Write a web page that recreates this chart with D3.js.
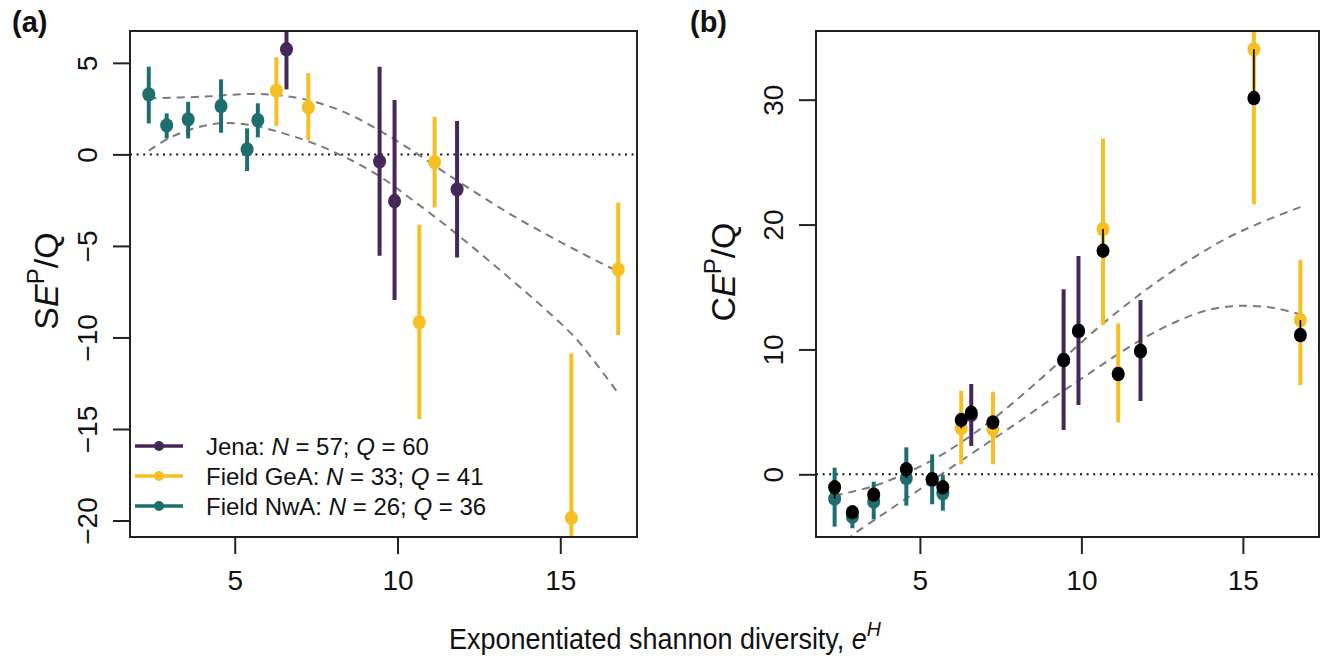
<!DOCTYPE html>
<html>
<head>
<meta charset="utf-8">
<script src="https://cdn.jsdelivr.net/npm/d3@7"></script>
<style>
  body { margin: 0; background: #fff; }
  svg text { font-family: "Liberation Sans", Arial, sans-serif; fill: #111; }
</style>
</head>
<body>
<script>
"use strict";
(function(){
    // x positions (exponentiated shannon diversity) per dataset
    const xJena = [6.59, 9.45, 9.91, 11.83]
    const xGeA = [6.28, 7.26, 10.67, 11.14, 15.34, 16.78]
    const xNwA = [2.36, 2.91, 3.57, 4.58, 5.38, 5.71]

    // panel (a): SE^P/Q with intervals
    const seJena = [5.74, -0.38, -2.55, -1.91]
    const seJenaLo = [3.55, -5.54, -7.96, -5.63]
    const seJenaHi = [7.9, 4.79, 2.97, 1.82]
    const seGeA = [3.48, 2.57, -9.16, -0.42, -19.86, -6.28]
    const seGeALo = [1.55, 0.78, -14.47, -2.90, -22.5, -9.87]
    const seGeAHi = [5.30, 4.43, -3.85, 2.05, -10.87, -2.64]
    const seNwA = [3.28, 1.58, 1.91, 2.64, 0.27, 1.87]
    const seNwALo = [1.69, 0.87, 0.87, 1.18, -0.91, 0.93]
    const seNwAHi = [4.79, 2.24, 2.87, 4.10, 1.42, 2.79]

    // panel (b): CE^P/Q per dataset, with intervals, and overall (black)
    const ceJena = [4.75, 9.15, 11.5, 9.87]
    const ceJenaLo = [2.27, 3.55, 5.55, 5.87]
    const ceJenaHi = [7.23, 14.81, 17.48, 13.96]
    const ceGeA = [3.68, 3.60, 19.64, 8.1, 34.03, 12.35]
    const ceGeALo = [0.80, 0.80, 11.95, 4.16, 21.6, 7.15]
    const ceGeAHi = [6.69, 6.61, 26.9, 12.09, 37.0, 17.16]
    const ceNwA = [-1.95, -3.39, -2.19, -0.30, -0.46, -1.52]
    const ceNwALo = [-4.19, -4.32, -3.6, -2.51, -2.40, -2.91]
    const ceNwAHi = [0.53, -2.67, -0.59, 2.16, 1.60, -0.06]
    const ceAllJena = [4.93, 9.15, 11.47, 9.87]
    const ceAllGeA = [4.35, 4.16, 17.90, 8.03, 30.13, 11.15]
    const ceAllNwA = [-1.04, -3.04, -1.63, 0.40, -0.40, -1.04]

    // fitted curves (dashed)
    const fitAUpperX = [2.36, 4.0, 5.5, 6.5, 7.5, 8.5, 9.5, 10.5, 11.5, 12.5, 13.5, 14.5, 15.5, 16.78]
    const fitAUpperY = [3.06, 3.15, 3.30, 3.2, 2.85, 2.2, 1.25, 0.15, -1.05, -2.2, -3.3, -4.3, -5.25, -6.41]
    const fitALowerX = [2.36, 3.0, 3.8, 4.6, 5.5, 6.5, 7.5, 8.5, 9.5, 10.5, 11.5, 12.5, 13.5, 14.5, 15.5, 16.78]
    const fitALowerY = [0.2, 0.9, 1.45, 1.7, 1.6, 1.15, 0.55, -0.25, -1.25, -2.55, -3.9, -5.35, -6.85, -8.4, -10.1, -13.06]
    const fitBUpperX = [2.36, 3.5, 4.5, 5.5, 6.5, 7.5, 8.5, 9.5, 10.5, 11.5, 12.5, 13.5, 14.5, 15.5, 16.78]
    const fitBUpperY = [-1.7, -1.0, 0.0, 1.3, 2.95, 4.9, 7.1, 9.4, 11.7, 13.8, 15.7, 17.4, 18.9, 20.1, 21.4]
    const fitBLowerX = [2.36, 3, 4, 5, 6, 7, 8, 9, 10, 11, 12, 13, 14, 15, 16, 16.78]
    const fitBLowerY = [-6.0, -4.7, -2.95, -1.2, 0.6, 2.35, 4.1, 5.9, 7.65, 9.4, 11.0, 12.3, 13.2, 13.5, 13.3, 12.8]

    const ticksA = [-20, -15, -10, -5, 0, 5]
    const ticksB = [0, 10, 20, 30]
    const ticksX = [5, 10, 15]

    const legendNames = ["Jena", "Field GeA", "Field NwA"]
    const legendN = [57, 33, 26]
    const legendQ = [60, 41, 36]
    const colors = ["#46275a", "#f6bf22", "#1f6e6f"]

    const svg = d3.select("body").append("svg")
        .attr("width", 1334)
        .attr("height", 664)

    // x domain padded by 4% like base R
    const allX = xJena.concat(xGeA, xNwA)
    const xr = d3.extent(allX)
    const pad = (xr[1] - xr[0]) * 0.04
    const xDomain = [xr[0] - pad, xr[1] + pad]

    const zip = (xs, ys) => xs.map((x, i) => [x, ys[i]])

    function makePanel(p) {
        const g = svg.append("g")
        const x = d3.scaleLinear().domain(xDomain).range([p.left, p.right])
        const y = d3.scaleLinear().domain(p.yDomain).range([p.bottom, p.top])

        const clipId = "clip" + p.id
        svg.append("clipPath").attr("id", clipId)
            .append("rect")
            .attr("x", p.left).attr("y", p.top)
            .attr("width", p.right - p.left).attr("height", p.bottom - p.top)
        const inner = g.append("g").attr("clip-path", "url(#" + clipId + ")")

        // zero reference line
        inner.append("line")
            .attr("x1", p.left).attr("x2", p.right)
            .attr("y1", y(0)).attr("y2", y(0))
            .attr("stroke", "#111").attr("stroke-width", 2)
            .attr("stroke-dasharray", "2,4.6")

        // dashed fits
        const line = d3.line()
            .x(d => x(d[0])).y(d => y(d[1]))
            .curve(d3.curveCatmullRom.alpha(0.5))
        p.fits.forEach(f => {
            inner.append("path")
                .attr("d", line(f))
                .attr("fill", "none")
                .attr("stroke", "#7a7a7a")
                .attr("stroke-width", 2)
                .attr("stroke-dasharray", "8,6")
        })

        // error bars and points per dataset
        p.groups.forEach(s => {
            inner.selectAll(null)
                .data(s.xs.map((v, i) => i))
                .enter()
                .append("line")
                .attr("x1", i => x(s.xs[i])).attr("x2", i => x(s.xs[i]))
                .attr("y1", i => y(s.lo[i])).attr("y2", i => y(s.hi[i]))
                .attr("stroke", s.color)
                .attr("stroke-width", 4)
            inner.selectAll(null)
                .data(s.xs.map((v, i) => i))
                .enter()
                .append("ellipse")
                .attr("cx", i => x(s.xs[i]))
                .attr("cy", i => y(s.ys[i]))
                .attr("rx", 6.5).attr("ry", 7.2)
                .attr("fill", s.color)
        })

        // overall estimates in panel b: black segment + black dot
        p.groups.forEach(s => {
            if (!s.all) return
            inner.selectAll(null)
                .data(s.xs.map((v, i) => i))
                .enter()
                .append("line")
                .attr("x1", i => x(s.xs[i])).attr("x2", i => x(s.xs[i]))
                .attr("y1", i => y(s.ys[i])).attr("y2", i => y(s.all[i]))
                .attr("stroke", "#000").attr("stroke-width", 1.6)
        })
        p.groups.forEach(s => {
            if (!s.all) return
            inner.selectAll(null)
                .data(s.xs.map((v, i) => i))
                .enter()
                .append("ellipse")
                .attr("cx", i => x(s.xs[i]))
                .attr("cy", i => y(s.all[i]))
                .attr("rx", 6.5).attr("ry", 7.2)
                .attr("fill", "#000")
        })

        // box
        g.append("rect")
            .attr("x", p.left).attr("y", p.top)
            .attr("width", p.right - p.left).attr("height", p.bottom - p.top)
            .attr("fill", "none").attr("stroke", "#222").attr("stroke-width", 2)

        // x axis
        const xAxis = d3.axisBottom(x).tickValues(ticksX).tickSize(17).tickPadding(16)
            .tickSizeOuter(0)
        const xg = g.append("g")
            .attr("transform", "translate(0," + p.bottom + ")")
            .call(xAxis)
        xg.select(".domain").attr("stroke", "#222").attr("stroke-width", 2)
            .attr("d", "M" + x(ticksX[0]) + ",0H" + x(ticksX[ticksX.length - 1]))
        xg.selectAll(".tick line").attr("stroke", "#222").attr("stroke-width", 2)
        xg.selectAll(".tick text").attr("font-size", 28).attr("fill", "#111")
            .attr("font-family", "Liberation Sans, Arial, sans-serif")

        // y axis with rotated labels
        const yAxis = d3.axisLeft(y).tickValues(p.ticks).tickSize(17)
            .tickSizeOuter(0)
            .tickFormat(d => d < 0 ? "\u2212" + Math.abs(d) : d)
        const yg = g.append("g")
            .attr("transform", "translate(" + p.left + ",0)")
            .call(yAxis)
        yg.select(".domain").attr("stroke", "#222").attr("stroke-width", 2)
            .attr("d", "M0," + y(p.ticks[0]) + "V" + y(p.ticks[p.ticks.length - 1]))
        yg.selectAll(".tick line").attr("stroke", "#222").attr("stroke-width", 2)
        yg.selectAll(".tick text")
            .attr("font-size", 28).attr("fill", "#111")
            .attr("font-family", "Liberation Sans, Arial, sans-serif")
            .attr("x", null).attr("dy", null)
            .attr("text-anchor", "middle")
            .attr("transform", "translate(-33,0) rotate(-90)")

        // panel letter
        svg.append("text")
            .attr("x", p.letterX).attr("y", 32)
            .attr("font-size", 29).attr("font-weight", "bold")
            .text(p.letter)

        // y axis title
        const t = svg.append("text")
            .attr("transform", "translate(" + p.titleX + "," + p.titleY + ") rotate(-90)")
            .attr("text-anchor", "middle")
            .attr("font-size", 34)
        t.append("tspan").text(p.titleLetter)
        t.append("tspan").attr("font-style", "italic").text("E")
        t.append("tspan").attr("font-size", 24).attr("dy", -14).text("P")
        t.append("tspan").attr("dy", 14).text("/Q")

        return { x: x, y: y }
    }

    // panel (a)
    makePanel({
        id: "a", left: 130, right: 637, top: 31, bottom: 537,
        yDomain: [-20.9, 6.74], ticks: ticksA,
        letter: "(a)", letterX: 12, titleX: 58, titleY: 281, titleLetter: "S",
        fits: [zip(fitAUpperX, fitAUpperY), zip(fitALowerX, fitALowerY)],
        groups: [
            { xs: xNwA, ys: seNwA, lo: seNwALo, hi: seNwAHi, color: colors[2] },
            { xs: xGeA, ys: seGeA, lo: seGeALo, hi: seGeAHi, color: colors[1] },
            { xs: xJena, ys: seJena, lo: seJenaLo, hi: seJenaHi, color: colors[0] }
        ]
    })

    // panel (b)
    makePanel({
        id: "b", left: 816, right: 1319, top: 31, bottom: 537,
        yDomain: [-5.02, 35.5], ticks: ticksB,
        letter: "(b)", letterX: 690, titleX: 735, titleY: 272, titleLetter: "C",
        fits: [zip(fitBUpperX, fitBUpperY), zip(fitBLowerX, fitBLowerY)],
        groups: [
            { xs: xNwA, ys: ceNwA, lo: ceNwALo, hi: ceNwAHi, color: colors[2], all: ceAllNwA },
            { xs: xGeA, ys: ceGeA, lo: ceGeALo, hi: ceGeAHi, color: colors[1], all: ceAllGeA },
            { xs: xJena, ys: ceJena, lo: ceJenaLo, hi: ceJenaHi, color: colors[0], all: ceAllJena }
        ]
    })

    // legend in panel (a)
    const legend = svg.append("g")
    legendNames.forEach((name, i) => {
        const ly = 446 + i * 30
        legend.append("line")
            .attr("x1", 135).attr("x2", 183).attr("y1", ly).attr("y2", ly)
            .attr("stroke", colors[i]).attr("stroke-width", 3.5)
        legend.append("circle")
            .attr("cx", 159).attr("cy", ly).attr("r", 5)
            .attr("fill", colors[i])
        const t = legend.append("text")
            .attr("x", 206).attr("y", ly + 8.5)
            .attr("font-size", 24)
        t.append("tspan").text(name + ": ")
        t.append("tspan").attr("font-style", "italic").text("N")
        t.append("tspan").text(" = " + legendN[i] + "; ")
        t.append("tspan").attr("font-style", "italic").text("Q")
        t.append("tspan").text(" = " + legendQ[i])
    })

    // shared x title (glyphs look slightly condensed in the original)
    const xt = svg.append("text")
        .attr("transform", "translate(665,649) scale(0.93,1)")
        .attr("text-anchor", "middle")
        .attr("font-size", 29)
    xt.append("tspan").text("Exponentiated shannon diversity, ")
    xt.append("tspan").attr("font-style", "italic").text("e")
    xt.append("tspan").attr("font-style", "italic").attr("font-size", 21).attr("dy", -13).text("H")
})()
</script>
</body>
</html>
